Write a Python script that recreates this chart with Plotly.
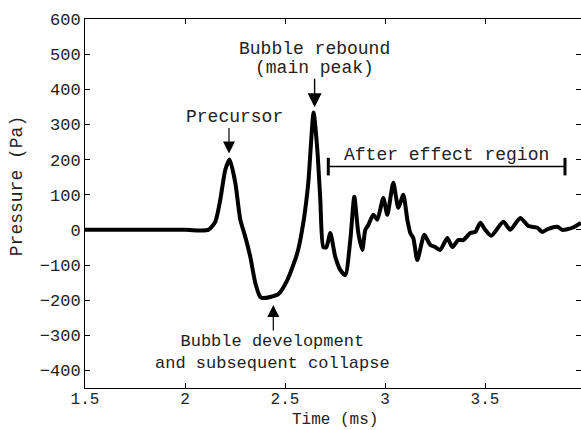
import plotly.graph_objects as go

time_ms = [1.5, 2.0, 2.1165, 2.1515, 2.1765, 2.2015, 2.223, 2.2515, 2.2765, 2.3015, 2.3265,
           2.3515, 2.3765, 2.3865, 2.4265, 2.4665, 2.5115, 2.5615, 2.5915, 2.6165, 2.643,
           2.6615, 2.6765, 2.6915, 2.7065, 2.7265, 2.7515, 2.7765, 2.8015, 2.8265, 2.8465,
           2.8665, 2.8865, 2.9015, 2.9165, 2.9415, 2.9615, 2.9915, 3.0115, 3.0415, 3.0665,
           3.0915, 3.1115, 3.1265, 3.1415, 3.1615, 3.1965, 3.2265, 3.2515, 3.2765, 3.3115,
           3.3365, 3.3665, 3.3915, 3.4265, 3.4515, 3.4765, 3.5015, 3.5315, 3.5915, 3.6265,
           3.6765, 3.7165, 3.7615, 3.7865, 3.8165, 3.8615, 3.8865, 3.9365, 3.98]
pressure_pa = [0, 0, 0, 23, 86, 171, 200, 134, 29, -20, -77,
               -151, -191, -194, -191, -183, -143, -66, 20, 134, 334,
               229, 86, -49, -50, -9, -77, -114, -129, -29, 94,
               -9, -57, 0, 14, 43, 29, 91, 43, 134, 63,
               100, 29, -9, -23, -86, -14, -43, -49, -57, -23,
               -49, -29, -29, -9, -6, 20, 0, -17, 23, 0,
               34, 11, 6, -6, 3, 9, 0, 6, 20]

y_ticks = [-400, -300, -200, -100, 0, 100, 200, 300, 400, 500, 600]
x_ticks = [1.5, 2, 2.5, 3, 3.5]
x_tick_labels = ["1.5", "2", "2.5", "3", "3.5"]

FONT = "Courier New, Nimbus Mono PS, FreeMono, Liberation Mono, monospace"
FS = 18
TXT = "#222"

fig = go.Figure()
fig.add_trace(go.Scatter(x=time_ms, y=pressure_pa, mode="lines",
                         line=dict(color="black", width=4, shape="spline", smoothing=0.6),
                         hoverinfo="skip", showlegend=False))

# After effect bracket
fig.add_shape(type="line", x0=2.7165, x1=3.90, y0=180, y1=180, line=dict(color="black", width=1.5))
fig.add_shape(type="line", x0=2.7165, x1=2.7165, y0=155, y1=205, line=dict(color="black", width=3))
fig.add_shape(type="line", x0=3.90, x1=3.90, y0=155, y1=205, line=dict(color="black", width=3))

anns = []
def text(x, y, s, size=FS):
    anns.append(dict(x=x, y=y, text=s, showarrow=False, xanchor="center", yanchor="middle",
                     align="center", font=dict(family=FONT, size=size, color=TXT)))
def arrow(x, y, ay, w=1.2, size=2.0):
    anns.append(dict(x=x, y=y, ax=0, ay=ay, text="", showarrow=True, arrowhead=2,
                     arrowsize=size, arrowwidth=w, arrowcolor="black"))

text(2.246, 320, "Precursor")
arrow(2.22, 217, -27)
text(2.647, 514, "Bubble rebound")
text(2.647, 460, "(main peak)")
arrow(2.648, 349, -30, w=1.4, size=2.0)
text(3.307, 214, "After effect region")
text(2.439, -349, "Bubble development<br>and subsequent collapse", size=17)
arrow(2.4415, -214, 27)

anns.append(dict(x=-0.137, y=0.547, xref="paper", yref="paper", text="Pressure (Pa)",
                 textangle=-90, showarrow=False, xanchor="center", yanchor="middle",
                 font=dict(family=FONT, size=FS, color=TXT)))
anns.append(dict(x=0.505, y=(388 - 431) / 369, xref="paper", yref="paper", text="Time (ms)",
                 showarrow=False, xanchor="center", yanchor="bottom",
                 font=dict(family=FONT, size=16, color=TXT)))

fig.update_layout(
    width=581, height=430,
    margin=dict(l=85, r=0, t=19, b=42),
    paper_bgcolor="white", plot_bgcolor="white",
    font=dict(family=FONT, size=FS, color=TXT),
    annotations=anns,
    xaxis=dict(range=[1.5, 3.98], tickvals=x_ticks, ticktext=x_tick_labels,
               ticks="inside", ticklen=5, tickcolor="black", showline=True, linecolor="black",
               linewidth=1, mirror="ticks", showgrid=False, zeroline=False,
               tickfont=dict(family=FONT, size=16, color=TXT), ticklabelstandoff=-4),
    yaxis=dict(range=[-450, 600], tickvals=y_ticks,
               ticks="inside", ticklen=5, tickcolor="black", showline=True, linecolor="black",
               linewidth=1, mirror="ticks", showgrid=False, zeroline=False,
               tickfont=dict(family=FONT, size=17, color=TXT)),
)

fig.write_html("out.html")
